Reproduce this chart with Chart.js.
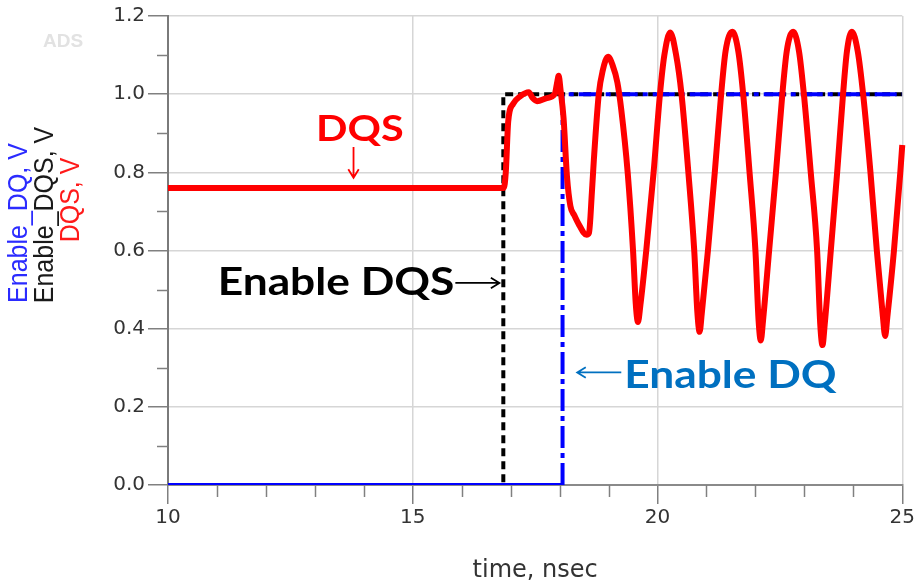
<!DOCTYPE html>
<html><head><meta charset="utf-8">
<script src="https://cdn.jsdelivr.net/npm/chart.js@4"></script>
<style>html,body{margin:0;padding:0;background:#fff;}#wrap{width:917px;height:585px;}</style>
</head><body><div id="wrap"><canvas id="c" width="917" height="585"></canvas></div>
<script>
// ---- data ----
const timeDQS = [10, 16.86, 16.90, 16.95, 17.05, 17.20, 17.37, 17.45, 17.54, 17.74, 17.90, 17.95, 17.98, 18.02, 18.08, 18.15, 18.22, 18.30, 18.40, 18.55, 18.60, 18.66, 18.70, 18.80, 18.88, 18.99,
  19.08, 19.18, 19.26, 19.39, 19.50, 19.555, 19.60, 19.65, 19.77,
  19.92, 20.05, 20.14, 20.26, 20.38, 20.49, 20.63, 20.75, 20.815, 20.86, 20.905, 21.03,
  21.17, 21.30, 21.39, 21.53, 21.65, 21.75, 21.88, 22.00, 22.065, 22.11, 22.155, 22.28,
  22.42, 22.55, 22.64, 22.77, 22.89, 22.99, 23.13, 23.26, 23.325, 23.37, 23.415, 23.54,
  23.67, 23.79, 23.87, 23.97, 24.09, 24.20, 24.35, 24.48, 24.605, 24.65, 24.695, 24.83,
  24.96, 25.00, 25.07];
const valDQS = [0.76, 0.76, 0.80, 0.93, 0.975, 0.995, 1.005, 0.99, 0.982, 0.99, 1.0, 1.03, 1.047, 1.01, 0.94, 0.79, 0.714, 0.69, 0.665, 0.64, 0.645, 0.75, 0.833, 1.0, 1.06, 1.096,
  1.075, 1.03, 0.96, 0.80, 0.60, 0.465, 0.417, 0.46, 0.60,
  0.80, 1.00, 1.10, 1.158, 1.10, 1.00, 0.80, 0.60, 0.44, 0.392, 0.44, 0.60,
  0.80, 1.00, 1.11, 1.16, 1.11, 1.00, 0.80, 0.60, 0.42, 0.370, 0.42, 0.60,
  0.80, 1.00, 1.11, 1.16, 1.11, 1.00, 0.80, 0.60, 0.41, 0.358, 0.41, 0.60,
  0.80, 1.00, 1.11, 1.16, 1.11, 1.00, 0.80, 0.60, 0.43, 0.381, 0.43, 0.60,
  0.80, 0.87, 1.02];
const timeEnDQS = [10, 16.85, 16.85, 25];
const valEnDQS  = [0, 0, 1, 1];
const timeEnDQ  = [10, 18.06, 18.06, 25];
const valEnDQ   = [0, 0, 1, 1];

const xTicks = [10, 15, 20, 25];
const xMinor = [11, 12, 13, 14, 16, 17, 18, 19, 21, 22, 23, 24];
const yTicks = [0, 0.2, 0.4, 0.6, 0.8, 1.0, 1.2];
const yMinor = [0.1, 0.3, 0.5, 0.7, 0.9, 1.1];
const xTitle = 'time, nsec';
const yTitles = ['Enable_DQ, V', 'Enable_DQS, V', 'DQS, V'];
const yTitleColors = ['#2b2bff', '#1a1a1a', '#ff1a1a'];

const noteTexts = ['DQS', 'Enable DQS', 'Enable DQ'];
const noteX = [13.92, 15.85, 19.32];
const noteY = [0.879, 0.486, 0.247];
const arrowX1 = [13.79, 15.87, 19.26];
const arrowY1 = [0.865, 0.517, 0.288];
const arrowX2 = [13.79, 16.77, 18.36];
const arrowY2 = [0.786, 0.517, 0.288];

// ---- styles ----
const noteStyle = [
  {color: '#ff0000', size: 36, align: 'center'},
  {color: '#000000', size: 38.5, align: 'right'},
  {color: '#0070c0', size: 38.5, align: 'left'}
];

const pts = (xs, ys) => xs.map((x, i) => ({x: x, y: ys[i]}));

const decorPlugin = {
  id: 'decor',
  afterDraw(chart) {
    const ctx = chart.ctx, xs = chart.scales.x, ys = chart.scales.y;
    const a = chart.chartArea;
    ctx.save();
    // minor ticks
    ctx.strokeStyle = '#808080'; ctx.lineWidth = 1.5;
    xMinor.forEach(v => { const px = Math.round(xs.getPixelForValue(v)) + 0.5;
      ctx.beginPath(); ctx.moveTo(px, a.bottom); ctx.lineTo(px, a.bottom + 12); ctx.stroke(); });
    yMinor.forEach(v => { const py = Math.round(ys.getPixelForValue(v)) + 0.5;
      ctx.beginPath(); ctx.moveTo(a.left, py); ctx.lineTo(a.left - 11, py); ctx.stroke(); });
    // y titles (rotated, multi-colour)
    ctx.font = '25px "Liberation Sans", Arial, sans-serif';
    ctx.textAlign = 'center'; ctx.textBaseline = 'middle';
    const tx = [19, 45, 71], ty = [223, 215, 200];
    yTitles.forEach((t, i) => {
      ctx.save(); ctx.translate(tx[i], ty[i]); ctx.rotate(-Math.PI / 2); ctx.scale(1, 1.1);
      ctx.fillStyle = yTitleColors[i]; ctx.fillText(t, 0, 0); ctx.restore();
    });
    // ADS watermark
    ctx.font = 'bold 19px "Liberation Sans", Arial, sans-serif';
    ctx.fillStyle = '#e2e2e2'; ctx.textAlign = 'center';
    ctx.fillText('ADS', 63, 42);
    // annotation texts
    noteTexts.forEach((t, i) => {
      const st = noteStyle[i];
      const px = xs.getPixelForValue(noteX[i]), py = ys.getPixelForValue(noteY[i]);
      ctx.save(); ctx.translate(px, py); ctx.scale(1.15, 1);
      ctx.font = 'bold ' + st.size + 'px Lato, "Open Sans", sans-serif';
      ctx.fillStyle = st.color; ctx.textAlign = st.align; ctx.textBaseline = 'alphabetic';
      ctx.fillText(t, 0, 0); ctx.restore();
    });
    // arrows
    arrowX1.forEach((_, i) => {
      const x1 = xs.getPixelForValue(arrowX1[i]), y1 = ys.getPixelForValue(arrowY1[i]);
      const x2 = xs.getPixelForValue(arrowX2[i]), y2 = ys.getPixelForValue(arrowY2[i]);
      const ang = Math.atan2(y2 - y1, x2 - x1), h = 10;
      ctx.strokeStyle = noteStyle[i].color; ctx.lineWidth = 1.8;
      ctx.beginPath(); ctx.moveTo(x1, y1); ctx.lineTo(x2, y2);
      ctx.moveTo(x2 - h * Math.cos(ang - 0.55), y2 - h * Math.sin(ang - 0.55));
      ctx.lineTo(x2, y2);
      ctx.lineTo(x2 - h * Math.cos(ang + 0.55), y2 - h * Math.sin(ang + 0.55));
      ctx.stroke();
    });
    ctx.restore();
  }
};

new Chart(document.getElementById('c'), {
  type: 'line',
  data: {
    datasets: [
      {label: 'DQS', data: pts(timeDQS, valDQS), borderColor: '#ff0000', borderWidth: 6,
       pointRadius: 0, cubicInterpolationMode: 'monotone', fill: false, clip: false},
      {label: 'Enable_DQ', data: pts(timeEnDQ, valEnDQ), borderColor: '#0000ff', borderWidth: 4,
       pointRadius: 0, tension: 0, fill: false,
       segment: {borderDash: c => (c.p0.parsed.y === 0 && c.p1.parsed.y === 0) ? [] : [22, 5, 5, 5]}},
      {label: 'Enable_DQS', data: pts(timeEnDQS, valEnDQS), borderColor: '#000000', borderWidth: 4,
       pointRadius: 0, tension: 0, fill: false, borderDash: [8, 5]}
    ]
  },
  options: {
    responsive: false, animation: false, devicePixelRatio: 1,
    layout: {padding: {left: 0, top: 16, right: 14, bottom: 0}},
    plugins: {legend: {display: false}, tooltip: {enabled: false}},
    scales: {
      x: {type: 'linear', min: 10, max: 25,
        afterBuildTicks: s => { s.ticks = xTicks.map(v => ({value: v})); },
        afterFit: s => { s.height = 100; },
        border: {color: '#8a8a8a', width: 2},
        grid: {color: c => c.tick && c.tick.value === 10 ? 'rgba(0,0,0,0)' : '#d6d6d6', lineWidth: 1.5,
               tickColor: '#808080', tickLength: 19, tickWidth: 1.5},
        ticks: {color: '#333', font: {family: 'DejaVu Sans', size: 20}, padding: 2, maxRotation: 0,
                callback: v => String(v)},
        title: {display: true, text: xTitle, color: '#333', font: {family: 'DejaVu Sans', size: 24},
                padding: {top: 0, bottom: 0}}
      },
      y: {type: 'linear', min: 0, max: 1.2,
        afterBuildTicks: s => { s.ticks = yTicks.map(v => ({value: v})); },
        afterFit: s => { s.width = 168; },
        border: {color: '#7a7a7a', width: 2},
        grid: {color: '#d6d6d6', lineWidth: 1.5, tickColor: '#808080', tickLength: 20, tickWidth: 1.5},
        ticks: {color: '#333', font: {family: 'DejaVu Sans', size: 20}, padding: 3,
                callback: v => Number(v).toFixed(1)}
      }
    }
  },
  plugins: [decorPlugin]
});
</script>
</body></html>
